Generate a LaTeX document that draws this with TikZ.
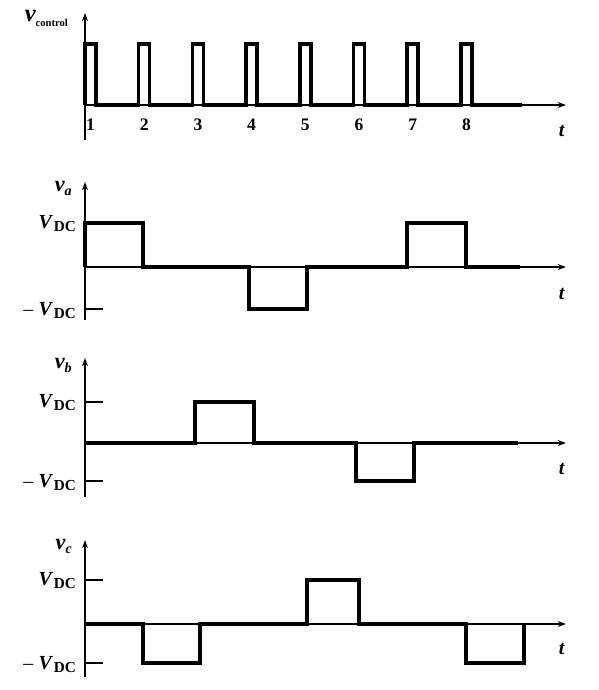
\documentclass[tikz,border=0pt]{standalone}
\usepackage{fontspec}
\setmainfont{Liberation Serif}
\usetikzlibrary{arrows.meta}

\newcommand{\vdc}{\textbf{\textit{V}}\kern0.5pt\raisebox{-0.35ex}{\fontsize{13}{13}\selectfont\bfseries DC}}
\newcommand{\vsub}[1]{\fontsize{19}{20}\selectfont\bfseries\itshape v\raisebox{-0.4ex}{\fontsize{12}{12}\selectfont #1}}

\begin{document}
\begin{tikzpicture}[x=0.03cm,y=-0.03cm,
    axis/.style={line width=1.5pt,-{Stealth[length=7pt,width=5pt]}},
    wave/.style={line width=3pt,line join=miter},
    vtick/.style={line width=1.5pt},
    lbl/.style={font=\fontsize{17}{20}\selectfont,inner sep=0pt},
    num/.style={font=\fontsize{15}{18}\selectfont\bfseries,inner sep=0pt}]
  \useasboundingbox (0,0) rectangle (599,690);

  % Parametry
  \def\tz{85}      % time origin
  \def\tu{53.7}    % spacing of control pulses
  \def\pw{11}      % width of a control pulse

  % Control pulses
  \draw[axis] (\tz,140) -- (\tz,13);
  \draw[axis] (\tz,105) -- (566,105);
  \draw[wave] (\tz,105) \foreach \k in {1,...,8}{ -- ({\tz+(\k-1)*\tu},105) -- ++(0,-61) -- ++(\pw,0) -- ++(0,61)} -- (522,105);
  \foreach \k in {1,...,8}
    \node[num] (n\k) at ({\tz+(\k-1)*\tu+\pw/2},125) {\k};
  \node[lbl,anchor=base east] (vctrl) at (68,21) {\fontsize{21}{22}\selectfont\bfseries\itshape v\raisebox{-0.45ex}{\fontsize{9}{9}\selectfont\upshape control}};
  \node[lbl] (t0) at (562,131) {\textbf{\textit{t}}};

  % Phase a
  \draw[axis] (\tz,320) -- (\tz,182);
  \draw[axis] (\tz,267) -- (566,267);
  \draw[vtick] (\tz,309) -- (103,309);
  \draw[wave] (85,267) -- (85,223) -- (143,223) -- (143,267) -- (249,267) -- (249,309) -- (307,309) -- (307,267) -- (407,267) -- (407,223) -- (466,223) -- (466,267) -- (520,267);
  \node[lbl,anchor=base east] (va) at (72,191) {\vsub{a}};
  \node[lbl,anchor=base east] (ahi) at (76,228) {\vdc};
  \node[lbl,anchor=base east] (alo) at (76,315) {-- \vdc};
  \node[lbl] (t1) at (562,294) {\textbf{\textit{t}}};

  % Phase b
  \draw[axis] (\tz,497) -- (\tz,358);
  \draw[axis] (\tz,443) -- (566,443);
  \draw[vtick] (\tz,402) -- (103,402);
  \draw[vtick] (\tz,481) -- (103,481);
  \draw[wave] (85,443) -- (195,443) -- (195,402) -- (254,402) -- (254,443) -- (356,443) -- (356,481) -- (414,481) -- (414,443) -- (518,443);
  \node[lbl,anchor=base east] (vb) at (72,368) {\vsub{b}};
  \node[lbl,anchor=base east] (bhi) at (76,407) {\vdc};
  \node[lbl,anchor=base east] (blo) at (76,487) {-- \vdc};
  \node[lbl] (t2) at (562,469) {\textbf{\textit{t}}};

  % Phase c
  \draw[axis] (\tz,677) -- (\tz,540);
  \draw[axis] (\tz,624) -- (566,624);
  \draw[vtick] (\tz,580) -- (103,580);
  \draw[vtick] (\tz,663) -- (103,663);
  \draw[wave] (85,624) -- (143,624) -- (143,663) -- (200,663) -- (200,624) -- (307,624) -- (307,580) -- (359,580) -- (359,624) -- (466,624) -- (466,663) -- (524,663) -- (524,624);
  \node[lbl,anchor=base east] (vcc) at (72,549) {\vsub{c}};
  \node[lbl,anchor=base east] (chi) at (76,585) {\vdc};
  \node[lbl,anchor=base east] (clo) at (76,669) {-- \vdc};
  \node[lbl] (t3) at (562,649) {\textbf{\textit{t}}};
\end{tikzpicture}
\end{document}
